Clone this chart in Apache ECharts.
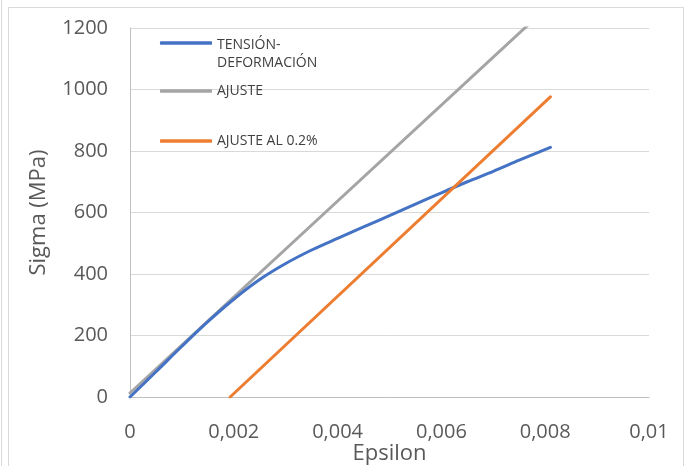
<!DOCTYPE html>
<html>
<head>
<meta charset="utf-8">
<script src="https://cdn.jsdelivr.net/npm/echarts@6/dist/echarts.min.js"></script>
<style>html,body{margin:0;padding:0;background:#fff}#c{width:688px;height:466px}</style>
</head>
<body>
<div id="c"></div>
<script>
// Data
const seriesNames = ['TENSIÓN-DEFORMACIÓN', 'AJUSTE', 'AJUSTE AL 0.2%'];
const legendLines = [['TENSIÓN-', 'DEFORMACIÓN'], ['AJUSTE'], ['AJUSTE AL 0.2%']];
const epsTension = [0, 0.0005, 0.001, 0.0015, 0.002, 0.0025, 0.003, 0.0035, 0.004, 0.0045, 0.005, 0.0055, 0.006, 0.0065, 0.007, 0.0075, 0.0081];
const sigmaTension = [0, 82, 165, 245, 318, 382, 434, 478, 516, 553, 590, 627, 664, 700, 734, 770, 812];
const epsAjuste = [0, 0.0081];
const sigmaAjuste = [13, 1277];
const epsAjuste02 = [0.00193, 0.0081];
const sigmaAjuste02 = [0, 976];
const xTicks = [0, 0.002, 0.004, 0.006, 0.008, 0.01];
const yTicks = [0, 200, 400, 600, 800, 1000, 1200];
const colors = ['#4472C4', '#A5A5A5', '#ED7D31'];

const zip = (xs, ys) => xs.map((x, i) => [x, ys[i]]);
const font = 'Open Sans';

function mkLegend(i, top) {
  let lines = legendLines[i].map(s => '{a|' + s + '}');
  if (lines.length > 1) lines = ['{sp|\u00a0}'].concat(lines);
  const txt = lines.join('\n');
  return {
    left: 160, top: top, padding: 0, orient: 'vertical',
    itemWidth: 52, itemHeight: 3.5, icon: 'roundRect',
    data: [{ name: seriesNames[i], icon: 'roundRect' }],
    formatter: () => txt,
    textStyle: { color: '#404040', fontSize: 14, fontFamily: font,
      rich: {
        a: { color: '#404040', fontSize: 14, fontFamily: font, lineHeight: 18 },
        sp: { fontSize: 14, fontFamily: font, lineHeight: 22, height: 22 }
      } },
    selectedMode: false
  };
}

const chart = echarts.init(document.getElementById('c'));
chart.setOption({
  animation: false,
  color: colors,
  graphic: [
    { type: 'rect', shape: { x: 8.5, y: 7.5, width: 675, height: 470 }, style: { fill: 'none', stroke: '#d9d9d9', lineWidth: 1 }, silent: true },
    { type: 'line', shape: { x1: 1.5, y1: 0, x2: 1.5, y2: 466 }, style: { stroke: '#d9d9d9', lineWidth: 1 }, silent: true }
  ],
  grid: { left: 130, right: 39, top: 28, bottom: 69, containLabel: false, outerBoundsMode: 'none' },
  legend: [mkLegend(0, 14), mkLegend(1, 84), mkLegend(2, 134)],
  xAxis: {
    type: 'value', min: xTicks[0], max: xTicks[xTicks.length - 1], interval: 0.002,
    name: 'Epsilon', nameLocation: 'middle', nameGap: 46, nameMoveOverlap: false,
    nameTextStyle: { color: '#595959', fontSize: 22, fontFamily: font },
    axisLine: { show: true, lineStyle: { color: '#bfbfbf', width: 1 } },
    axisTick: { show: false },
    splitLine: { show: false },
    axisLabel: { color: '#595959', fontSize: 20, fontFamily: font, margin: 25,
      formatter: v => String(+v.toFixed(4)).replace('.', ',') }
  },
  yAxis: {
    type: 'value', min: yTicks[0], max: yTicks[yTicks.length - 1], interval: 200,
    name: 'Sigma (MPa)', nameLocation: 'middle', nameGap: 80, nameRotate: 90, nameMoveOverlap: false,
    nameTextStyle: { color: '#595959', fontSize: 22, fontFamily: font },
    axisLine: { show: true, lineStyle: { color: '#bfbfbf', width: 1 } },
    axisTick: { show: false },
    splitLine: { show: true, lineStyle: { color: '#d9d9d9', width: 1 } },
    axisLabel: { color: '#595959', fontSize: 20, fontFamily: font, margin: 22,
      formatter: v => String(v) }
  },
  series: [
    { name: seriesNames[0], type: 'line', data: zip(epsTension, sigmaTension), showSymbol: false, smooth: 0.3,
      lineStyle: { width: 3, color: colors[0], cap: 'round' }, z: 3 },
    { name: seriesNames[1], type: 'line', data: zip(epsAjuste, sigmaAjuste), showSymbol: false,
      lineStyle: { width: 3, color: colors[1], cap: 'round' }, z: 2 },
    { name: seriesNames[2], type: 'line', data: zip(epsAjuste02, sigmaAjuste02), showSymbol: false,
      lineStyle: { width: 3, color: colors[2], cap: 'round' }, z: 4 }
  ]
});
</script>
</body>
</html>
